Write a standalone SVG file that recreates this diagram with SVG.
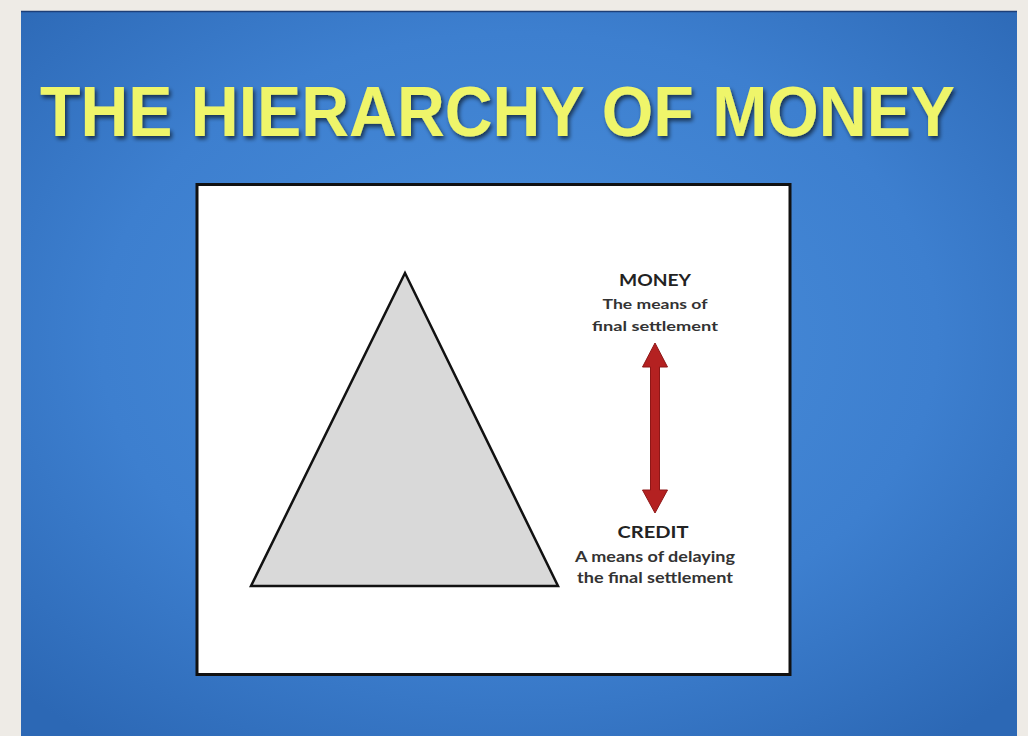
<svg xmlns="http://www.w3.org/2000/svg" width="1028" height="736" viewBox="0 0 1028 736">
  <defs>
    <radialGradient id="bluebg" cx="0.5" cy="0.45" r="0.7">
      <stop offset="0" stop-color="#4a8fdb"/>
      <stop offset="0.6" stop-color="#3d7fcf"/>
      <stop offset="1" stop-color="#2c68b5"/>
    </radialGradient>
    <filter id="shadow" x="-5%" y="-20%" width="110%" height="150%">
      <feGaussianBlur in="SourceAlpha" stdDeviation="2"/>
      <feOffset dx="2" dy="3" result="b"/>
      <feComponentTransfer><feFuncA type="linear" slope="0.6"/></feComponentTransfer>
      <feMerge><feMergeNode/><feMergeNode in="SourceGraphic"/></feMerge>
    </filter>
    <style>
      .title { font-family: "Liberation Sans", Arial, sans-serif; font-weight: bold; font-size: 70px; fill: #eff56b; }
      .head { font-family: Lato, "Open Sans", sans-serif; font-weight: bold; font-size: 17px; fill: #222; text-anchor: middle; }
      .sub { font-family: Lato, "Open Sans", sans-serif; font-weight: bold; font-size: 13px; fill: #333; text-anchor: middle; }
      .subl { font-family: Lato, "Open Sans", sans-serif; font-weight: bold; font-size: 15px; fill: #333; text-anchor: middle; }
    </style>
  </defs>

  <rect x="0" y="0" width="1028" height="736" fill="#eeebe6"/>
  <rect x="21" y="11" width="996" height="725" fill="url(#bluebg)"/>
  <line x1="21" y1="11.5" x2="1017" y2="11.5" stroke="#1d3f78" stroke-width="1.5"/>

  <g id="title" filter="url(#shadow)">
    <text class="title" x="40" y="136" textLength="915" lengthAdjust="spacingAndGlyphs">THE HIERARCHY OF MONEY</text>
  </g>

  <g id="panel">
    <rect x="197" y="184.5" width="593" height="490" fill="#ffffff" stroke="#111111" stroke-width="3"/>
  </g>

  <g id="pyramid">
    <polygon points="405,273 251,586 558,586" fill="#d9d9d9" stroke="#111111" stroke-width="2.5" stroke-linejoin="miter"/>
  </g>

  <g id="money">
    <text class="head" x="655" y="286" textLength="72" lengthAdjust="spacingAndGlyphs">MONEY</text>
    <text class="sub" x="655" y="309" textLength="105" lengthAdjust="spacingAndGlyphs">The means of</text>
    <text class="sub" x="655" y="331" textLength="126" lengthAdjust="spacingAndGlyphs">final settlement</text>
  </g>

  <g id="credit">
    <text class="head" x="653" y="538" textLength="71" lengthAdjust="spacingAndGlyphs">CREDIT</text>
    <text class="subl" x="655" y="562" textLength="160" lengthAdjust="spacingAndGlyphs">A means of delaying</text>
    <text class="subl" x="655" y="583" textLength="156" lengthAdjust="spacingAndGlyphs">the final settlement</text>
  </g>

  <g id="connectors">
    <polygon points="655,343 667.5,367 659.5,367 659.5,490 667.5,490 655,513 642.5,490 650.5,490 650.5,367 642.5,367" fill="#b42121" stroke="#8e1717" stroke-width="1" stroke-linejoin="round"/>
  </g>
</svg>
